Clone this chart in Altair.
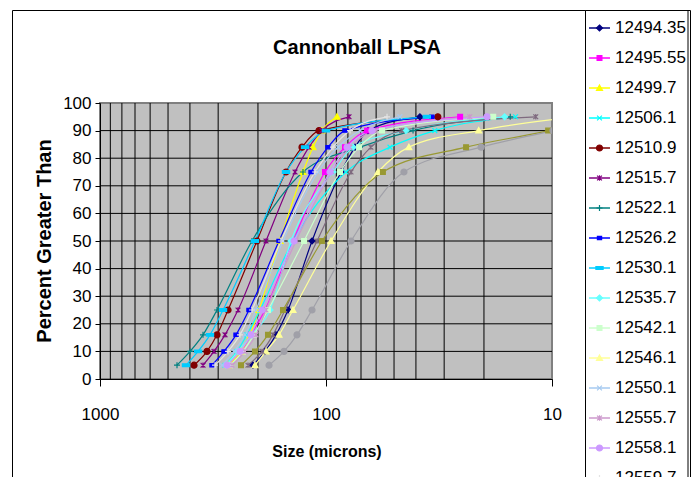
import altair as alt
import pandas as pd

# Cumulative percentiles measured for every sample
percent_levels = [5, 10, 16, 25, 50, 75, 84, 90, 95]

series_names = [
    "12494.35", "12495.55", "12499.7", "12506.1", "12510.9", "12515.7",
    "12522.1", "12526.2", "12530.1", "12535.7", "12542.1", "12546.1",
    "12550.1", "12555.7", "12558.1", "12559.7", "12563.1", "12567.9", "12571.3",
]

series_colors = [
    "#000080", "#FF00FF", "#FFFF00", "#00FFFF", "#800000", "#800080",
    "#008080", "#0000FF", "#00CCFF", "#66FFFF", "#CCFFCC", "#FFFF99",
    "#A6CAF0", "#CC99CC", "#CC99FF", "#E3E3E3", "#7F6A7F", "#999933", "#A0A0A8",
]

# Grain size (microns) at each percentile, one list per sample
size_12494_35 = [210.5, 186.2, 166.4, 147.3, 115.3, 85.8, 74.4, 65.2, 38.4]
size_12495_55 = [268.6, 237.8, 214.8, 186.2, 140.0, 101.0, 82.4, 65.8, 25.5]
size_12499_7 = [271.3, 237.8, 217.0, 198.0, 159.8, 126.4, 114.2, 104.2, 89.4]
size_12506_1 = [279.8, 247.6, 223.7, 195.9, 140.0, 81.6, 52.1, 33.0, 14.5]
size_12510_9 = [383.7, 336.2, 303.5, 271.3, 202.1, 150.3, 127.7, 107.4, 32.0]
size_12515_7 = [350.1, 313.0, 279.8, 245.1, 184.3, 137.1, 118.9, 104.2, 79.1]
size_12522_1 = [456.3, 399.6, 350.1, 303.5, 212.6, 126.4, 70.7, 41.2, 15.3]
size_12526_2 = [319.4, 282.7, 250.1, 219.2, 161.4, 116.5, 98.0, 82.4, 34.0]
size_12530_1 = [416.4, 368.3, 326.0, 285.5, 206.2, 150.3, 123.8, 100.0, 35.8]
size_12535_7 = [276.9, 245.1, 212.6, 176.9, 142.8, 93.1, 75.9, 44.3, 16.2]
size_12542_1 = [265.9, 233.0, 208.3, 180.6, 125.1, 86.7, 71.4, 56.5, 18.2]
size_12546_1 = [206.2, 184.3, 161.4, 140.0, 95.0, 58.9, 43.0, 21.1, 7.9]
size_12550_1 = [288.5, 255.3, 228.3, 204.1, 155.0, 108.5, 88.5, 70.7, 47.1]
size_12555_7 = [260.5, 228.3, 204.1, 184.3, 135.7, 94.1, 78.3, 60.7, 23.1]
size_12558_1 = [274.1, 240.2, 214.8, 191.9, 138.5, 96.0, 80.7, 62.6, 19.4]
size_12559_7 = [309.8, 271.3, 240.2, 212.6, 158.2, 111.9, 93.1, 78.3, 53.7]
size_12563_1 = [221.4, 191.9, 171.6, 151.9, 109.6, 77.5, 63.3, 46.2, 11.8]
size_12567_9 = [237.8, 206.2, 180.6, 155.0, 104.2, 56.0, 24.0, 10.4, 6.1]
size_12571_3 = [178.7, 153.4, 134.4, 115.3, 77.5, 45.2, 20.6, 9.9, 5.5]

series_sizes = [
    size_12494_35, size_12495_55, size_12499_7, size_12506_1, size_12510_9,
    size_12515_7, size_12522_1, size_12526_2, size_12530_1, size_12535_7,
    size_12542_1, size_12546_1, size_12550_1, size_12555_7, size_12558_1,
    size_12559_7, size_12563_1, size_12567_9, size_12571_3,
]

x_tick_values = [10, 100, 1000]
x_minor_grid = [20, 30, 40, 50, 60, 70, 80, 90, 100,
                200, 300, 400, 500, 600, 700, 800, 900]
y_tick_values = list(range(0, 101, 10))
y_grid = list(range(10, 100, 10))

# Marker glyphs in the spreadsheet style
DIAMOND = "M0,-1L1,0L0,1L-1,0Z"
SQUARE = "M-0.8,-0.8H0.8V0.8H-0.8Z"
TRIANGLE = "M0,-1L1,0.8H-1Z"
XMARK = "M-0.8,-0.8L0.8,0.8M-0.8,0.8L0.8,-0.8"
STAR = "M-0.8,-0.8L0.8,0.8M-0.8,0.8L0.8,-0.8M0,-0.9V0.9"
PLUS = "M-1,0H1M0,-1V1"
SHORT_DASH = "M-0.7,-0.55H0.7V0.55H-0.7Z"
LONG_DASH = "M-1.2,-0.45H1.2V0.45H-1.2Z"

series_shapes = [
    DIAMOND, SQUARE, TRIANGLE, XMARK, "circle", STAR,
    PLUS, SHORT_DASH, LONG_DASH, DIAMOND, SQUARE, TRIANGLE,
    XMARK, STAR, "circle", PLUS, STAR, SQUARE, "circle",
]

rows = []
for name, sizes in zip(series_names, series_sizes):
    for pct, size in zip(percent_levels, sizes):
        rows.append({"series": name, "size": size, "pct": pct})
data = pd.DataFrame(rows)

legend_data = pd.DataFrame({"series": series_names, "idx": list(range(len(series_names)))})
one = pd.DataFrame({"k": [0]})

FONT = "Liberation Sans"

x_scale = alt.Scale(type="log", domain=[10, 1000], reverse=True)
y_scale = alt.Scale(domain=[0, 100], nice=False, zero=False)
color_scale = alt.Scale(domain=series_names, range=series_colors)
shape_scale = alt.Scale(domain=series_names, range=series_shapes)
legend_y = alt.Scale(domain=[0, 1], range=[-75, -45], nice=False, zero=False)

x_axis = alt.Axis(
    values=x_tick_values, grid=False, format="d", title=None,
    domainColor="black", domainWidth=1, tickColor="black", tickSize=7,
    labelPadding=20, labelFont=FONT, labelFontSize=17, labelColor="black",
    labelFlush=False, labelOverlap=False,
)
y_axis = alt.Axis(
    values=y_tick_values, grid=False, title=None,
    domainColor="black", domainWidth=1, tickColor="black", tickSize=5,
    labelPadding=4, labelFont=FONT, labelFontSize=17, labelColor="black",
)

chart_frame = alt.Chart(one).mark_rect(
    fillOpacity=0, stroke="black", strokeWidth=1
).encode(x=alt.value(-87.5), x2=alt.value(590.5), y=alt.value(-92.5), y2=alt.value(420))

legend_frame = alt.Chart(one).mark_rect(
    fill="white", stroke="black", strokeWidth=1
).encode(x=alt.value(485.5), x2=alt.value(588), y=alt.value(-92.5), y2=alt.value(420))

title = alt.Chart(one).mark_text(
    text="Cannonball LPSA", font=FONT, fontSize=20, fontWeight="bold",
    align="center", baseline="middle", color="black",
).encode(x=alt.value(257), y=alt.value(-55))

x_title = alt.Chart(one).mark_text(
    text="Size (microns)", font=FONT, fontSize=16, fontWeight="bold",
    align="center", baseline="middle", color="black",
).encode(x=alt.value(227), y=alt.value(349))

y_title = alt.Chart(one).mark_text(
    text="Percent Greater Than", font=FONT, fontSize=20, fontWeight="bold",
    align="center", baseline="middle", angle=270, color="black",
).encode(x=alt.value(-55), y=alt.value(138))

x_grid_rules = alt.Chart(pd.DataFrame({"size": x_minor_grid})).mark_rule(
    color="black", strokeWidth=1
).encode(x=alt.X("size:Q", scale=x_scale, axis=x_axis))

y_grid_rules = alt.Chart(pd.DataFrame({"pct": y_grid})).mark_rule(
    color="black", strokeWidth=1
).encode(y=alt.Y("pct:Q", scale=y_scale, axis=y_axis))

lines = alt.Chart(data).mark_line(
    clip=True, interpolate="monotone", strokeWidth=1.2
).encode(
    x=alt.X("size:Q", scale=x_scale, axis=x_axis),
    y=alt.Y("pct:Q", scale=y_scale, axis=None),
    color=alt.Color("series:N", scale=color_scale, legend=None),
    order=alt.Order("pct:Q"),
)

points = alt.Chart(data).mark_point(
    clip=True, filled=True, size=36, strokeWidth=1.2, opacity=1
).encode(
    x=alt.X("size:Q", scale=x_scale, axis=x_axis),
    y=alt.Y("pct:Q", scale=y_scale, axis=None),
    shape=alt.Shape("series:N", scale=shape_scale, legend=None),
    fill=alt.Fill("series:N", scale=color_scale, legend=None),
    stroke=alt.Stroke("series:N", scale=color_scale, legend=None),
)

legend_lines = alt.Chart(legend_data).mark_rule(strokeWidth=1.5).encode(
    x=alt.value(489), x2=alt.value(510),
    y=alt.Y("idx:Q", scale=legend_y, axis=None),
    color=alt.Color("series:N", scale=color_scale, legend=None),
)

legend_marks = alt.Chart(legend_data).mark_point(
    filled=True, size=36, strokeWidth=1.2, opacity=1
).encode(
    x=alt.value(499.5),
    y=alt.Y("idx:Q", scale=legend_y, axis=None),
    shape=alt.Shape("series:N", scale=shape_scale, legend=None),
    fill=alt.Fill("series:N", scale=color_scale, legend=None),
    stroke=alt.Stroke("series:N", scale=color_scale, legend=None),
)

legend_text = alt.Chart(legend_data).mark_text(
    font=FONT, fontSize=17, align="left", baseline="middle", color="black"
).encode(
    x=alt.value(515),
    y=alt.Y("idx:Q", scale=legend_y, axis=None),
    text="series:N",
)

chart = alt.layer(
    chart_frame, legend_frame, title, x_title, y_title,
    x_grid_rules, y_grid_rules, lines, points,
    legend_lines, legend_marks, legend_text,
).resolve_scale(
    y="independent"
).properties(
    width=452, height=276,
    padding={"left": 100, "top": 103, "right": 144, "bottom": 98},
    autosize=alt.AutoSizeParams(type="none"),
    background="white",
).configure_view(
    fill="#C0C0C0", stroke="#808080", strokeWidth=2
)

chart.save("out.html", embed_options={"renderer": "svg", "actions": False})
